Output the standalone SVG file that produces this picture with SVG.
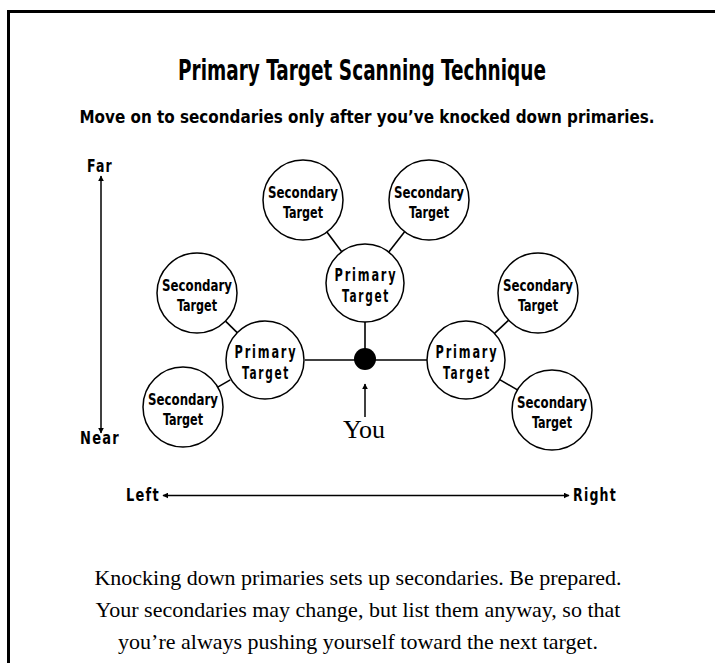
<svg xmlns="http://www.w3.org/2000/svg" width="715" height="663" viewBox="0 0 715 663">
<defs>
<style>
.cond{font-family:"DejaVu Sans Condensed","DejaVu Sans","Liberation Sans",sans-serif;font-weight:bold;fill:#000}
.serif{font-family:"Liberation Serif","DejaVu Serif",serif;fill:#000}
.node circle{fill:#fff;stroke:#000;stroke-width:1.5}
.sec{font-size:16px;text-anchor:middle}
.pri{font-size:17px;text-anchor:middle;letter-spacing:2.5px}
.conn line{stroke:#000;stroke-width:1.6}
.axis{stroke:#000;stroke-width:1.5;fill:none}
</style>
<marker id="ah" viewBox="0 0 10 10" refX="9" refY="5" markerWidth="6" markerHeight="6" orient="auto-start-reverse" markerUnits="userSpaceOnUse">
<path d="M0,0 L10,5 L0,10 z" fill="#000"/>
</marker>
</defs>
<rect x="0" y="0" width="715" height="663" fill="#fff"/>
<rect x="8.5" y="11.5" width="720" height="670" fill="none" stroke="#000" stroke-width="3"/>

<text class="cond" x="362" y="80" font-size="29" text-anchor="middle" textLength="368" lengthAdjust="spacingAndGlyphs">Primary Target Scanning Technique</text>
<text class="cond" x="367" y="123" font-size="18" text-anchor="middle" textLength="575" lengthAdjust="spacingAndGlyphs">Move on to secondaries only after you’ve knocked down primaries.</text>

<g id="axis-far-near">
<line class="axis" x1="101" y1="433" x2="101" y2="176" marker-start="url(#ah)" marker-end="url(#ah)"/>
<text class="cond" x="100" y="172" font-size="17" text-anchor="middle" letter-spacing="1.5" textLength="26" lengthAdjust="spacingAndGlyphs">Far</text>
<text class="cond" x="100" y="444" font-size="17" text-anchor="middle" letter-spacing="1.5" textLength="40" lengthAdjust="spacingAndGlyphs">Near</text>
</g>
<g id="axis-left-right">
<line class="axis" x1="163" y1="495.5" x2="569" y2="495.5" marker-start="url(#ah)" marker-end="url(#ah)"/>
<text class="cond" x="126" y="501" font-size="17" letter-spacing="1.5" textLength="34" lengthAdjust="spacingAndGlyphs">Left</text>
<text class="cond" x="573" y="501" font-size="17" letter-spacing="1.5" textLength="44" lengthAdjust="spacingAndGlyphs">Right</text>
</g>

<g id="connectors" class="conn">
<line x1="305" y1="360" x2="356" y2="360"/>
<line x1="374" y1="360" x2="427" y2="360"/>
<line x1="365" y1="322" x2="365" y2="350"/>
<line x1="341.7" y1="251.8" x2="326.9" y2="232"/>
<line x1="388.8" y1="252.1" x2="404.6" y2="231.7"/>
<line x1="237.2" y1="332.6" x2="225.5" y2="321.1"/>
<line x1="230.3" y1="379.9" x2="217.7" y2="387.1"/>
<line x1="494.5" y1="333.4" x2="508.7" y2="320.2"/>
<line x1="499.7" y1="379.6" x2="517.4" y2="389.9"/>
<line x1="365" y1="417" x2="365" y2="384" marker-end="url(#ah)" style="stroke-width:1.5"/>
</g>

<g id="you">
<circle cx="365" cy="359" r="11" fill="#000"/>
<text class="serif" x="364" y="438" font-size="26" text-anchor="middle">You</text>
</g>

<g id="primary-top" class="node">
<circle cx="365" cy="283" r="39"/>
<text class="cond pri" x="366" y="281" textLength="63" lengthAdjust="spacingAndGlyphs">Primary</text>
<text class="cond pri" x="366" y="302" textLength="48" lengthAdjust="spacingAndGlyphs">Target</text>
</g>
<g id="primary-left" class="node">
<circle cx="265" cy="360" r="39"/>
<text class="cond pri" x="266" y="358" textLength="63" lengthAdjust="spacingAndGlyphs">Primary</text>
<text class="cond pri" x="266" y="379" textLength="48" lengthAdjust="spacingAndGlyphs">Target</text>
</g>
<g id="primary-right" class="node">
<circle cx="466" cy="360" r="39"/>
<text class="cond pri" x="467" y="358" textLength="63" lengthAdjust="spacingAndGlyphs">Primary</text>
<text class="cond pri" x="467" y="379" textLength="48" lengthAdjust="spacingAndGlyphs">Target</text>
</g>

<g id="secondary-top-left" class="node">
<circle cx="303" cy="200" r="40"/>
<text class="cond sec" x="303" y="198" textLength="70" lengthAdjust="spacingAndGlyphs">Secondary</text>
<text class="cond sec" x="303" y="218" textLength="40" lengthAdjust="spacingAndGlyphs">Target</text>
</g>
<g id="secondary-top-right" class="node">
<circle cx="429" cy="200" r="40"/>
<text class="cond sec" x="429" y="198" textLength="70" lengthAdjust="spacingAndGlyphs">Secondary</text>
<text class="cond sec" x="429" y="218" textLength="40" lengthAdjust="spacingAndGlyphs">Target</text>
</g>
<g id="secondary-left-upper" class="node">
<circle cx="197" cy="293" r="40"/>
<text class="cond sec" x="197" y="291" textLength="70" lengthAdjust="spacingAndGlyphs">Secondary</text>
<text class="cond sec" x="197" y="311" textLength="40" lengthAdjust="spacingAndGlyphs">Target</text>
</g>
<g id="secondary-left-lower" class="node">
<circle cx="183" cy="407" r="40"/>
<text class="cond sec" x="183" y="405" textLength="70" lengthAdjust="spacingAndGlyphs">Secondary</text>
<text class="cond sec" x="183" y="425" textLength="40" lengthAdjust="spacingAndGlyphs">Target</text>
</g>
<g id="secondary-right-upper" class="node">
<circle cx="538" cy="293" r="40"/>
<text class="cond sec" x="538" y="291" textLength="70" lengthAdjust="spacingAndGlyphs">Secondary</text>
<text class="cond sec" x="538" y="311" textLength="40" lengthAdjust="spacingAndGlyphs">Target</text>
</g>
<g id="secondary-right-lower" class="node">
<circle cx="552" cy="410" r="40"/>
<text class="cond sec" x="552" y="408" textLength="70" lengthAdjust="spacingAndGlyphs">Secondary</text>
<text class="cond sec" x="552" y="428" textLength="40" lengthAdjust="spacingAndGlyphs">Target</text>
</g>

<g id="caption" class="serif" font-size="22" text-anchor="middle">
<text x="358" y="585">Knocking down primaries sets up secondaries. Be prepared.</text>
<text x="358" y="617">Your secondaries may change, but list them anyway, so that</text>
<text x="358" y="649">you’re always pushing yourself toward the next target.</text>
</g>
</svg>
